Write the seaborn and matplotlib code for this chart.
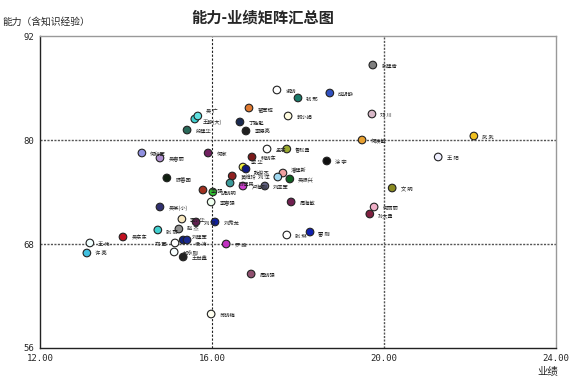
import matplotlib
matplotlib.use("Agg")
import matplotlib.pyplot as plt
import seaborn as sns
import pandas as pd

# 姓名、业绩、能力、颜色
names = ["张建青", "成胡静", "钱 邢", "谢晓", "翟军辉", "郭小娟", "邓 川", "丁胜魁", "李德亮",
         "王静(大)", "吴 广", "段建华", "何焕敏", "武 武", "王 阳", "文 明", "何丽丽", "孙大勇",
         "涂 宇", "孟宇", "鲁松勇", "韩晓东", "李 华", "魏俊杰", "黄维玲", "陈建民", "卢海刚",
         "刘亚军", "潘建新", "刘 洋", "吴振兴", "周海敏", "张 琳", "雷 刚", "罗 峰", "周晓强",
         "苏晓梅", "何利军", "吴春丽", "何家", "陈善国", "李 强", "胡晓明", "李春强", "吴某(小)",
         "李小华", "刘 斌", "刘秀龙", "张 丽", "赵 杰", "吴东东", "王 伟", "许 亮", "郑 军",
         "刘建军", "杨 涛", "郝永刚", "王世鑫"]
performance = [19.74, 18.74, 18.00, 17.51, 16.86, 17.77, 19.72, 16.65, 16.79,
               15.60, 15.67, 15.42, 19.49, 22.09, 21.26, 20.19, 19.77, 19.67,
               18.67, 17.28, 17.74, 16.93, 16.72, 16.79, 16.47, 16.42, 16.72,
               17.23, 17.65, 17.53, 17.81, 17.84, 17.74, 18.28, 16.33, 16.91,
               15.98, 14.37, 14.79, 15.91, 14.95, 15.79, 16.02, 15.98, 14.79,
               15.30, 15.63, 16.07, 14.74, 15.23, 13.93, 13.16, 13.09, 15.14,
               15.33, 15.42, 15.12, 15.33]
ability = [88.65, 85.42, 84.85, 85.77, 83.69, 82.77, 83.00, 82.08, 81.04,
           82.42, 82.77, 81.15, 80.00, 80.46, 78.04, 74.46, 72.27, 71.46,
           77.58, 78.96, 78.96, 78.04, 76.88, 76.65, 75.85, 75.04, 74.69,
           74.69, 76.19, 75.73, 75.50, 72.85, 69.04, 69.38, 68.00, 64.54,
           59.92, 78.50, 77.92, 78.50, 75.62, 74.23, 74.00, 72.85, 72.27,
           70.88, 70.54, 70.54, 69.62, 69.73, 68.81, 68.12, 66.96, 68.12,
           68.46, 68.46, 67.08, 66.50]
colors = ["#808080", "#3050c0", "#1a7a6a", "#ffffff", "#e07a30", "#fffce0", "#d8b8c8", "#1a2a50", "#202020",
          "#40d0d0", "#60e0e0", "#2a6a5a", "#e8a030", "#f0c020", "#f0f0ff", "#8a8a20", "#f0b0c8", "#802040",
          "#101010", "#ffffff", "#9aaa30", "#7a1a1a", "#f0f040", "#101a80", "#902020", "#3a9a9a", "#d040d0",
          "#606080", "#f0a0a0", "#a0d8f0", "#106020", "#702050", "#ffffff", "#1020b0", "#c030c0", "#905070",
          "#fffff0", "#9090e0", "#b090d0", "#702060", "#102010", "#a03020", "#30c030", "#f0fff0", "#303070",
          "#f8e8c0", "#602050", "#1020a0", "#40d0d0", "#909090", "#c01020", "#f0ffff", "#40c0e0", "#ffffff",
          "#102080", "#1a2a90", "#f8ffff", "#202020"]

x_ticks = [12, 16, 20, 24]
y_ticks = [56, 68, 80, 92]

# a few labels nudged so they don't sit on top of each other
label_offsets = {"吴 广": (6, 3), "王静(大)": (6, -2), "李 华": (6, 3), "魏俊杰": (6, -3),
                 "郑 军": (-6, -1), "杨 涛": (6, -3), "刘建军": (6, 2), "赵 杰": (6, 1),
                 "张 丽": (6, -2), "刘 洋": (-6, 0), "潘建新": (6, 2)}
left_labels = {"郑 军", "刘 洋"}

df = pd.DataFrame({"name": names, "perf": performance, "ability": ability})

sns.set_style("white")
plt.rcParams['font.family'] = ['Noto Sans CJK SC', 'DejaVu Sans']

fig = plt.figure(figsize=(5.8, 3.84), dpi=100)
ax = fig.add_axes([40 / 580, 36 / 384, 516 / 580, 312 / 384])

# 分区线
ax.axvline(16, color="#222222", linestyle=(0, (2, 1.5)), linewidth=0.8, zorder=1)
ax.axvline(20, color="#555555", linestyle=(0, (1.5, 1)), linewidth=1.0, zorder=1)
for yv in [68, 80]:
    ax.axhline(yv, color="#555555", linestyle=(0, (1.5, 1)), linewidth=1.0, zorder=1)

sns.scatterplot(data=df, x="perf", y="ability", hue="name",
                palette=dict(zip(names, colors)), legend=False,
                s=30, edgecolor="#222222", linewidth=0.8, ax=ax, zorder=3)

for n, xv, yv in zip(names, performance, ability):
    off = label_offsets.get(n, (6, -1))
    ax.annotate(n, (xv, yv), xytext=off, textcoords="offset points",
                fontsize=3.8, va="center", ha="right" if n in left_labels else "left",
                color="#222222")

ax.set_xlim(12, 24)
ax.set_ylim(56, 92)
ax.set_xticks(x_ticks)
ax.set_xticklabels([f"{v:.2f}" for v in x_ticks], fontsize=6.5, family="DejaVu Sans Mono")
ax.set_yticks(y_ticks)
ax.set_yticklabels([str(v) for v in y_ticks], fontsize=6.5, family="DejaVu Sans Mono")
ax.tick_params(length=0, pad=4)
ax.set_xlabel("")
ax.set_ylabel("")

for side in ["top", "right"]:
    ax.spines[side].set_color("#999999")
for side in ["left", "bottom"]:
    ax.spines[side].set_color("#222222")
for sp in ax.spines.values():
    sp.set_linewidth(1.0)

fig.text(263 / 580, 1 - 18 / 384, "能力-业绩矩阵汇总图", fontsize=11, ha="center", va="center", weight="bold")
fig.text(2 / 580, 1 - 22 / 384, "能力（含知识经验）", fontsize=7, ha="left", va="center")
fig.text(548 / 580, 1 - 372 / 384, "业绩", fontsize=7.5, ha="center", va="center")

fig.savefig("out.png", dpi=100)
